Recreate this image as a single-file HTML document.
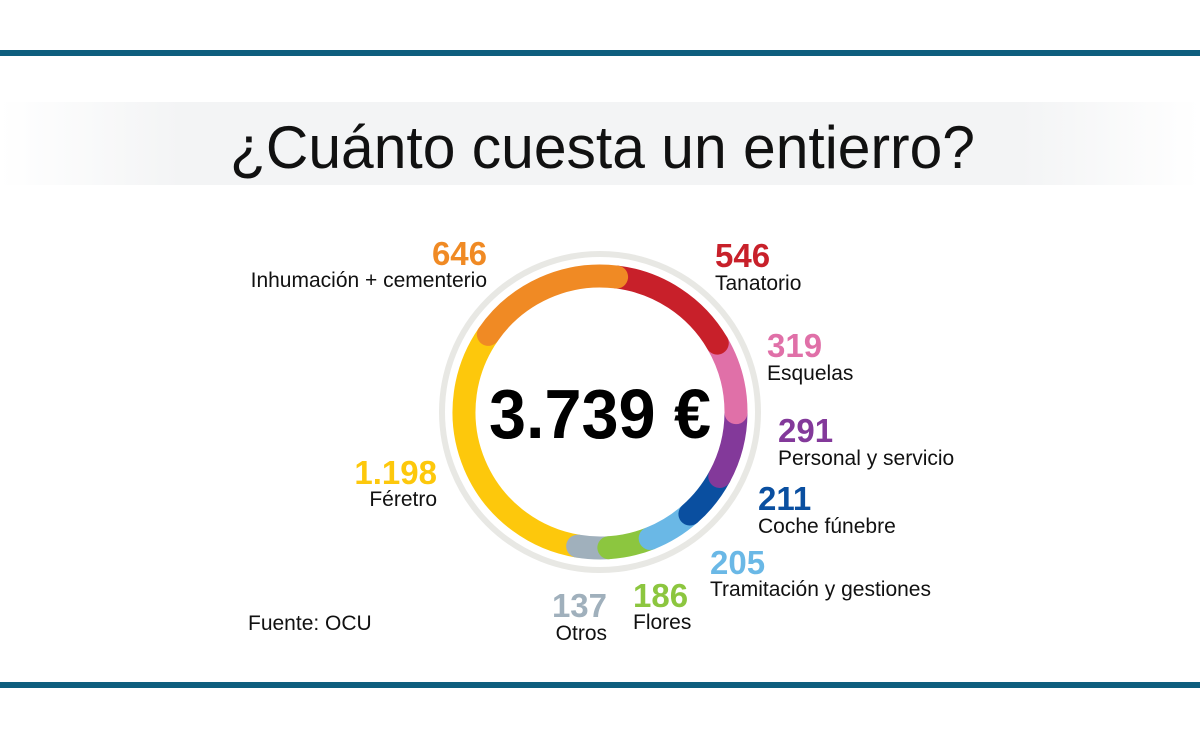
<!DOCTYPE html>
<html><head><meta charset="utf-8"><style>
html,body{margin:0;padding:0;background:#fff}
svg{display:block}
text{font-family:"Liberation Sans",sans-serif}
.n{font-weight:bold;font-size:33px}
.l{font-size:21px;fill:#111}
</style></head><body>
<svg width="1200" height="740" viewBox="0 0 1200 740" xmlns="http://www.w3.org/2000/svg">
<defs>
<linearGradient id="band" x1="0" x2="1" y1="0" y2="0">
<stop offset="0" stop-color="#f3f4f5" stop-opacity="0"/>
<stop offset="0.15" stop-color="#f3f4f5"/>
<stop offset="0.85" stop-color="#f3f4f5"/>
<stop offset="1" stop-color="#f3f4f5" stop-opacity="0"/>
</linearGradient>
</defs>
<rect x="0" y="50" width="1200" height="6" fill="#0e5e7e"/>
<rect x="0" y="682" width="1200" height="6" fill="#0e5e7e"/>
<rect x="0" y="102" width="1200" height="83" fill="url(#band)"/>
<text x="230" y="168" font-size="60" textLength="745" lengthAdjust="spacingAndGlyphs" fill="#111">¿Cuánto cuesta un entierro?</text>
<circle cx="600" cy="412" r="158" fill="none" stroke="#e8e8e4" stroke-width="6"/>
<g id="ring"></g>
<text x="600" y="438" text-anchor="middle" font-size="70" font-weight="bold" textLength="222" lengthAdjust="spacingAndGlyphs" fill="#000">3.739 €</text>

<text class="n" x="487" y="265" text-anchor="end" fill="#f08a24">646</text>
<text class="l" x="487" y="287" text-anchor="end">Inhumación + cementerio</text>
<text class="n" x="715" y="267" fill="#c8202a">546</text>
<text class="l" x="715" y="290">Tanatorio</text>
<text class="n" x="767" y="357" fill="#e070a8">319</text>
<text class="l" x="767" y="380">Esquelas</text>
<text class="n" x="778" y="442" fill="#83399a">291</text>
<text class="l" x="778" y="465">Personal y servicio</text>
<text class="n" x="758" y="510" fill="#0a4fa0">211</text>
<text class="l" x="758" y="533">Coche fúnebre</text>
<text class="n" x="710" y="574" fill="#6ab8e6">205</text>
<text class="l" x="710" y="596">Tramitación y gestiones</text>
<text class="n" x="633" y="607" fill="#8cc63f">186</text>
<text class="l" x="633" y="629">Flores</text>
<text class="n" x="607" y="617" text-anchor="end" fill="#a0b0bc">137</text>
<text class="l" x="607" y="640" text-anchor="end">Otros</text>
<text class="n" x="437" y="484" text-anchor="end" fill="#fdc80c">1.198</text>
<text class="l" x="437" y="506" text-anchor="end">Féretro</text>
<text class="l" x="248" y="630">Fuente: OCU</text>
</svg>
<script>
(function(){
var segs=[[546,"#c8202a"],[319,"#e070a8"],[291,"#83399a"],[211,"#0a4fa0"],[205,"#6ab8e6"],[186,"#8cc63f"],[137,"#a0b0bc"],[1198,"#fdc80c"],[646,"#f08a24"]];
var cx=600,cy=412,r=136,a=7,out=[];
function pt(d){var t=d*Math.PI/180;return [cx+r*Math.sin(t),cy-r*Math.cos(t)];}
segs.forEach(function(s){var sw=s[0]/3739*360;var p1=pt(a),p2=pt(a+sw);
out.push('<path d="M'+p1[0]+' '+p1[1]+' A'+r+' '+r+' 0 '+(sw>180?1:0)+' 1 '+p2[0]+' '+p2[1]+'" fill="none" stroke="'+s[1]+'" stroke-width="23" stroke-linecap="round"/>');a+=sw;});
var orange=out.pop();
out.reverse();
out.push(orange);
document.getElementById("ring").innerHTML=out.join("");
})();
</script>
</body></html>
